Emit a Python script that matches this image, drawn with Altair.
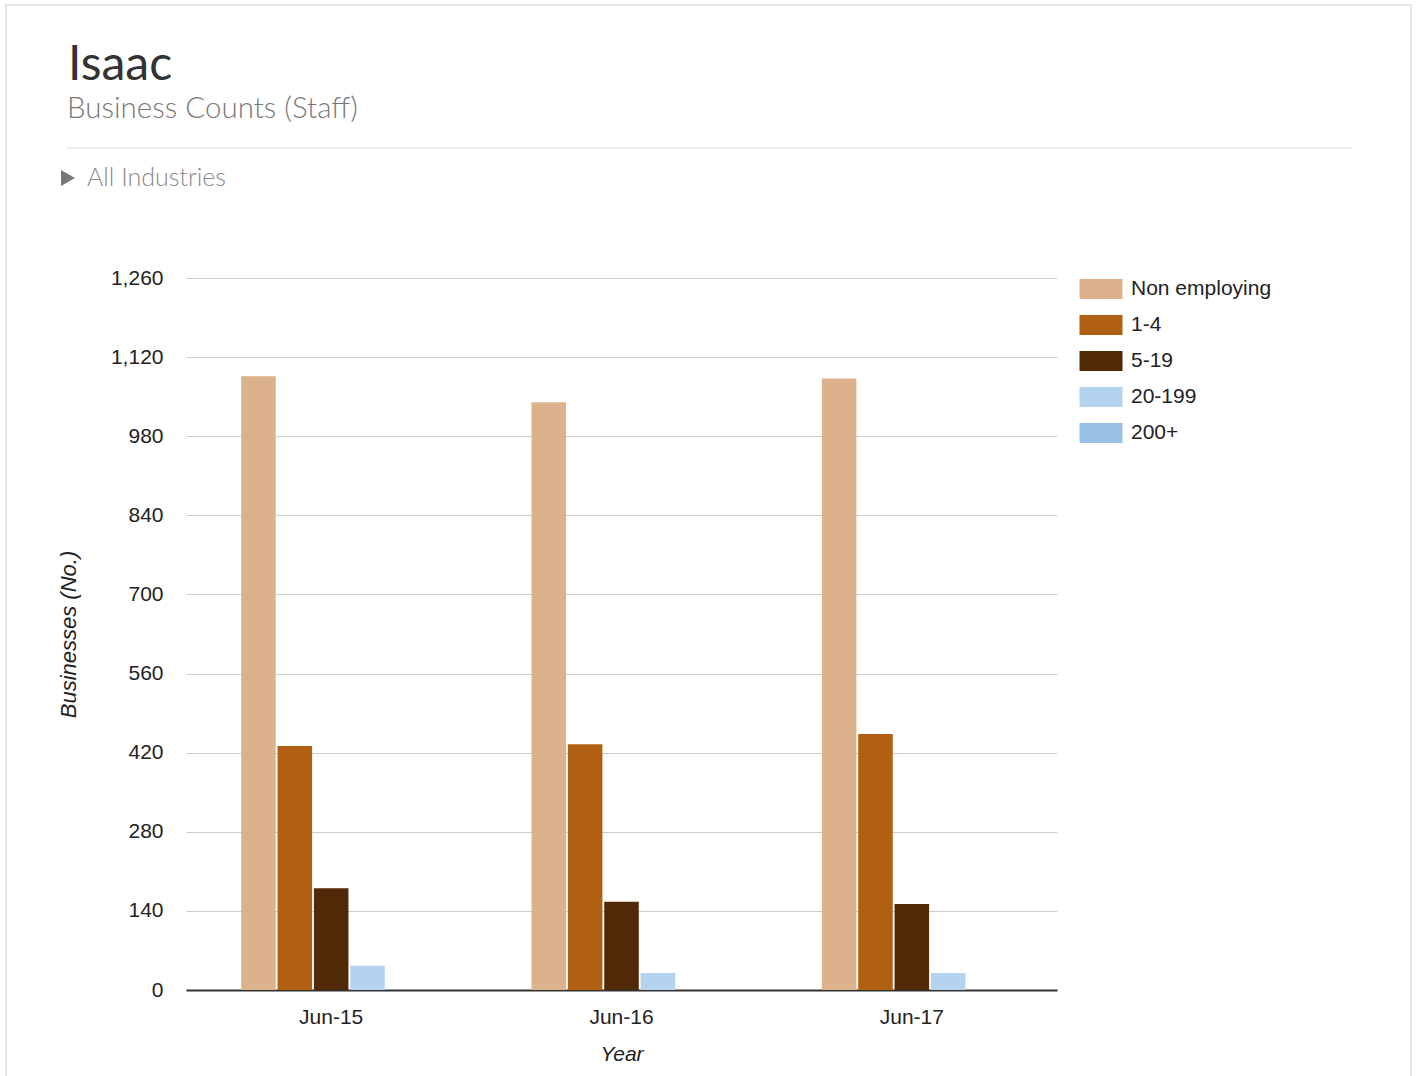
import altair as alt
import pandas as pd

# Business counts by staff size band, Isaac region
years = ["Jun-15", "Jun-16", "Jun-17"]
bands = ["Non employing", "1-4", "5-19", "20-199", "200+"]
non_employing = [1086, 1040, 1082]
staff_1_4 = [432, 435, 453]
staff_5_19 = [180, 156, 152]
staff_20_199 = [43, 30, 30]
staff_200_plus = [0, 0, 0]
band_colors = ["#dbb28c", "#b15f13", "#502a07", "#b3d3ee", "#99c0e6"]
y_ticks = [0, 140, 280, 420, 560, 700, 840, 980, 1120, 1260]

series = [non_employing, staff_1_4, staff_5_19, staff_20_199, staff_200_plus]
rows = []
for band, vals in zip(bands, series):
    for yr, v in zip(years, vals):
        rows.append({"year": yr, "band": band, "count": v})
df = pd.DataFrame(rows)

W, H = 871, 712
PAD_L, PAD_T = 186, 278

bars = alt.Chart(df).mark_bar().encode(
    x=alt.X(
        "year:N",
        sort=years,
        scale=alt.Scale(paddingInner=0.38, paddingOuter=0.19),
        axis=alt.Axis(
            title="Year",
            labelAngle=0,
            ticks=False,
            domainColor="#333333",
            domainWidth=2,
            labelFont="Arial",
            labelFontSize=21,
            labelColor="#222222",
            labelPadding=16,
            titleFont="Arial",
            titleFontSize=21,
            titleFontStyle="italic",
            titleFontWeight="normal",
            titleColor="#222222",
            titlePadding=16,
            grid=False,
        ),
    ),
    xOffset=alt.XOffset("band:N", sort=bands, scale=alt.Scale(paddingInner=0.05)),
    y=alt.Y(
        "count:Q",
        scale=alt.Scale(domain=[0, 1260], nice=False),
        axis=alt.Axis(
            title="Businesses (No.)",
            values=y_ticks,
            format=",d",
            domain=False,
            ticks=False,
            gridColor="#cccccc",
            labelFont="Arial",
            labelFontSize=21,
            labelColor="#222222",
            labelPadding=23,
            titleFont="Arial",
            titleFontSize=22,
            titleFontStyle="italic",
            titleFontWeight="normal",
            titleColor="#222222",
            titlePadding=30,
        ),
    ),
    color=alt.Color(
        "band:N",
        sort=bands,
        scale=alt.Scale(domain=bands, range=band_colors),
        legend=alt.Legend(
            title=None,
            orient="none",
            legendX=904,
            legendY=0,
            symbolType="M-2,-0.93H2V0.93H-2Z",
            symbolSize=462,
            symbolStrokeWidth=0,
            symbolOpacity=1,
            labelOffset=19,
            labelFont="Arial",
            labelFontSize=21,
            labelColor="#222222",
            rowPadding=15,
        ),
    ),
)

one = pd.DataFrame({"k": [0]})

# card frame
frame = alt.Chart(one).mark_rect(fill=None, stroke="#dddddd", strokeWidth=1.5).encode(
    x=alt.value(6 - PAD_L), x2=alt.value(1411 - PAD_L),
    y=alt.value(5 - PAD_T), y2=alt.value(1090 - PAD_T),
)

title = alt.Chart(one).mark_text(
    text="Isaac", font="Lato", fontSize=48, color="#333333", align="left", baseline="alphabetic"
).encode(x=alt.value(68 - PAD_L), y=alt.value(80 - PAD_T))

subtitle = alt.Chart(one).mark_text(
    text="Business Counts (Staff)", font="Lato", fontSize=29.5, fontWeight=300,
    color="#7a7a7a", align="left", baseline="alphabetic"
).encode(x=alt.value(67 - PAD_L), y=alt.value(118 - PAD_T))

separator = alt.Chart(one).mark_rule(color="#e6e6e6", strokeWidth=1.5).encode(
    x=alt.value(67 - PAD_L), x2=alt.value(1352 - PAD_L), y=alt.value(148 - PAD_T)
)

arrow = alt.Chart(one).mark_point(shape="triangle-right", filled=True, color="#777777", size=260, opacity=1).encode(
    x=alt.value(68 - PAD_L), y=alt.value(178 - PAD_T)
)

industries = alt.Chart(one).mark_text(
    text="All Industries", font="Lato", fontSize=25, fontWeight=300,
    color="#8a8a8a", align="left", baseline="alphabetic"
).encode(x=alt.value(87 - PAD_L), y=alt.value(186 - PAD_T))

chart = alt.layer(frame, title, subtitle, separator, arrow, industries, bars).properties(
    width=W,
    height=H,
    autosize=alt.AutoSizeParams(type="none"),
    padding={"left": PAD_L, "top": PAD_T, "right": 1416 - PAD_L - W, "bottom": 1076 - PAD_T - H},
    view=alt.ViewBackground(stroke="transparent", strokeWidth=0),
).configure_view(stroke="transparent", strokeWidth=0).configure(background="#ffffff")

chart.save("out.html", embed_options={"renderer": "svg", "actions": False})
